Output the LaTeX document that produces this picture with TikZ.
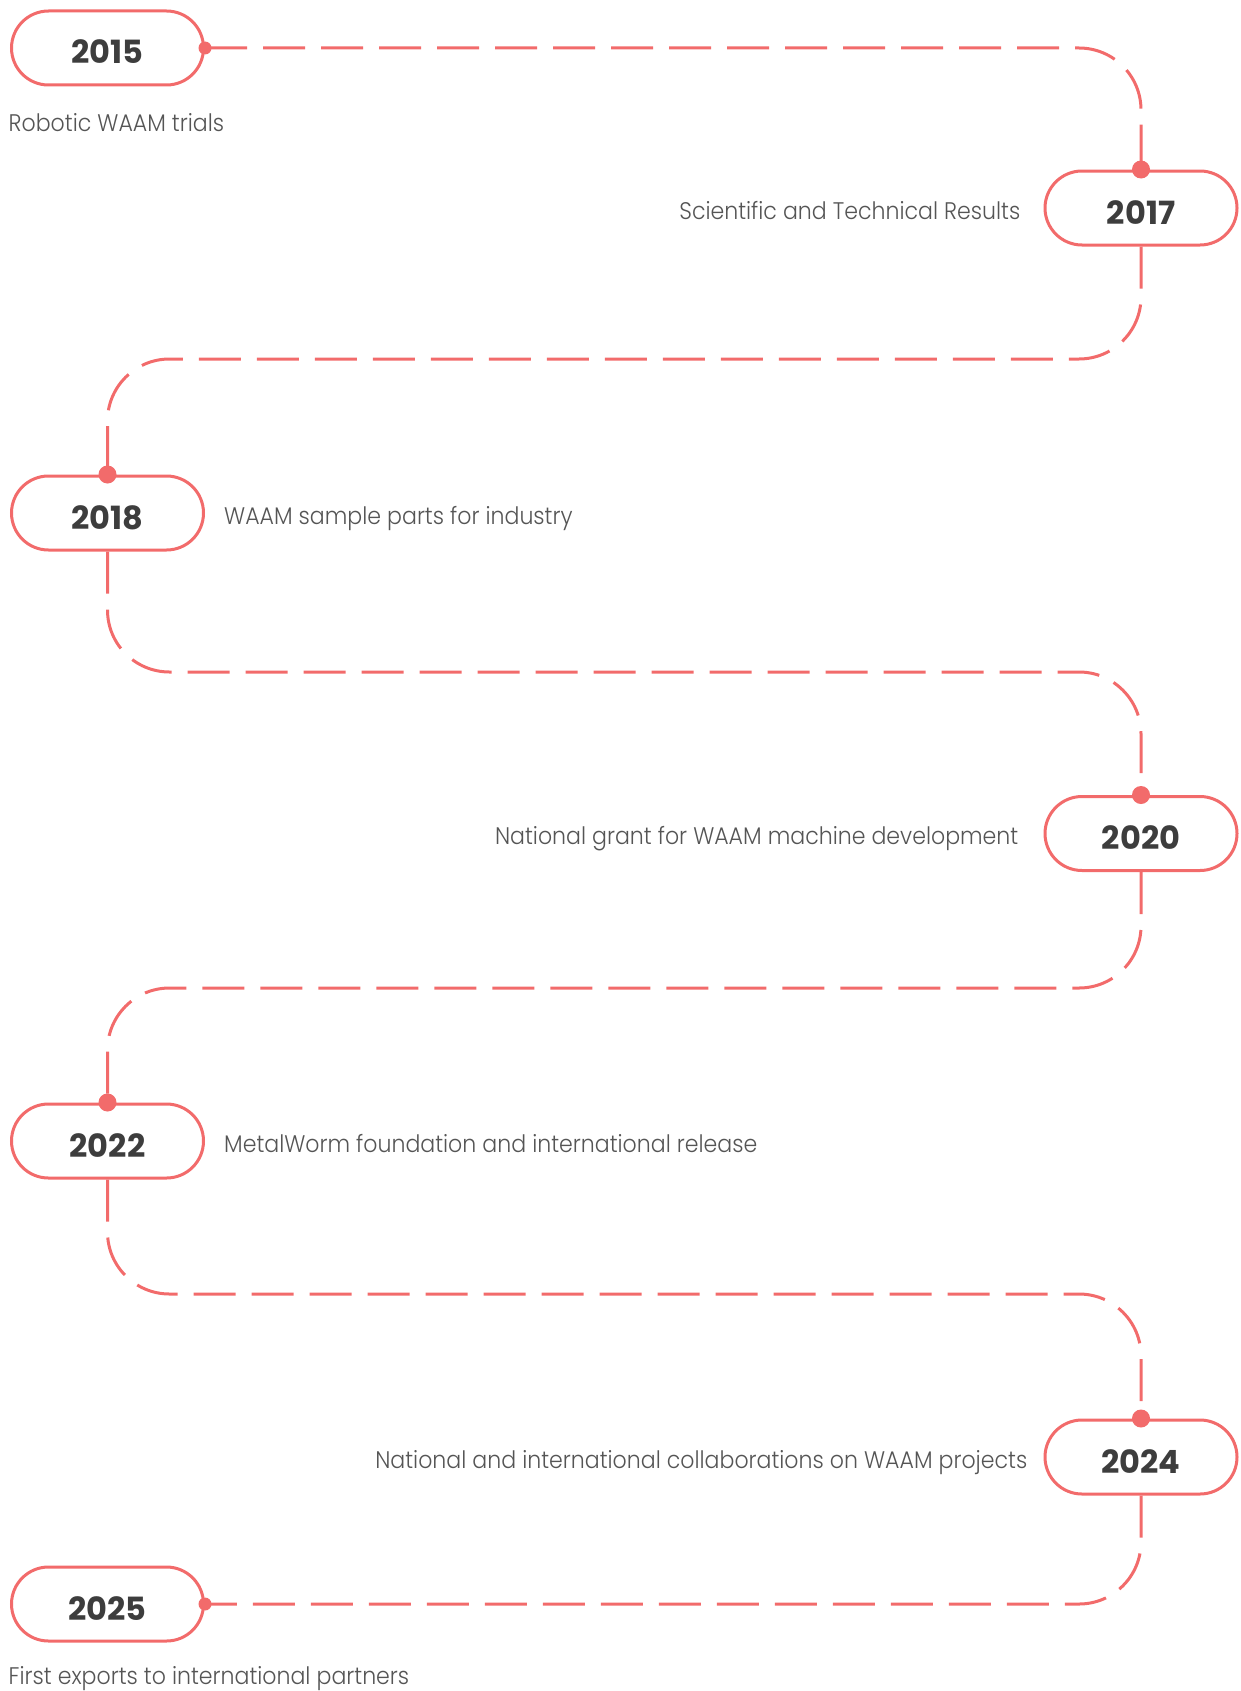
\documentclass[tikz,border=0pt]{standalone}
\usepackage{fontspec}
\setmainfont{Poppins}
\newfontfamily\notefont{Poppins Light}[FakeStretch=0.92]
\usetikzlibrary{positioning}
\usetikzlibrary{shapes.misc}

\definecolor{coral}{HTML}{F26B6B}
\definecolor{yeargray}{HTML}{3D3D3D}
\definecolor{notegray}{HTML}{555555}

\tikzset{
  pill/.style={rounded rectangle, draw=coral, line width=3pt, fill=white,
    minimum width=192pt, minimum height=74pt, inner sep=0pt,
    text height=32pt, text depth=0pt,
    font=\fontsize{32}{32}\selectfont\bfseries, text=yeargray},
  note/.style={inner sep=0pt, text height=26pt, text depth=4pt,
    font=\notefont\fontsize{24}{24}\selectfont, text=notegray},
  link/.style={coral, line width=3pt, dash pattern=on 42pt off 16pt,
    rounded corners=62pt},
  dot/.style={fill=coral}
}

\begin{document}
\begin{tikzpicture}[x=1pt, y=-1pt]
    % Page frame, measured in pixels from the top left corner
    \useasboundingbox (0,0) rectangle (1241,1691);

    % Rows of the horizontal runs
    \coordinate (row2) at (0,359);
    \coordinate (row3) at (0,672);
    \coordinate (row4) at (0,988);
    \coordinate (row5) at (0,1294);

    % Year pills
    \node[pill] (y2015) at (107.5,48) {2015};
    \node[pill] (y2017) at (1141,208) {2017};
    \node[pill] (y2018) at (107.5,513) {2018};
    \node[pill] (y2020) at (1141,833.5) {2020};
    \node[pill] (y2022) at (107.5,1141) {2022};
    \node[pill] (y2024) at (1141,1457) {2024};
    \node[pill] (y2025) at (107.5,1604) {2025};

    % Dashed timeline from pill to pill
    \draw[link] (y2015.east) -| (y2017.north);
    \draw[link] (y2017.south) |- (row2 -| y2018.north) -- (y2018.north);
    \draw[link] (y2018.south) |- (row3 -| y2020.north) -- (y2020.north);
    \draw[link] (y2020.south) |- (row4 -| y2022.north) -- (y2022.north);
    \draw[link] (y2022.south) |- (row5 -| y2024.north) -- (y2024.north);
    \draw[link] (y2024.south) |- (y2025.east);

    % Dots where the timeline meets a pill
    \foreach \a in {y2017.north, y2018.north, y2020.north, y2022.north, y2024.north}
      \fill[dot] (\a) circle (9pt);
    \foreach \a in {y2015.east, y2025.east}
      \fill[dot] (\a) circle (6.5pt);

    % Milestone notes
    \node[note, anchor=base west] (t2015) at ([xshift=-1.5pt, yshift=-45pt]y2015.west |- y2015.south) {Robotic WAAM trials};
    \node[note, left=23pt of y2017] (t2017) {Scientific and Technical Results};
    \node[note, right=19pt of y2018] (t2018) {WAAM sample parts for industry};
    \node[note, left=25pt of y2020] (t2020) {National grant for WAAM machine development};
    \node[note, right=19pt of y2022] (t2022) {MetalWorm foundation and international release};
    \node[note, left=16pt of y2024] (t2024) {National and international collaborations on WAAM projects};
    \node[note, anchor=base west] (t2025) at ([xshift=-1.5pt, yshift=-42pt]y2025.west |- y2025.south) {First exports to international partners};
\end{tikzpicture}
\end{document}
